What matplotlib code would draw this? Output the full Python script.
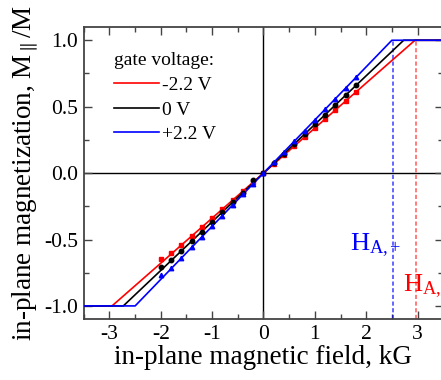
import matplotlib
matplotlib.use("Agg")
import matplotlib.pyplot as plt
from matplotlib.ticker import MultipleLocator

plt.rcParams['font.family'] = ['Liberation Serif', 'DejaVu Serif']
plt.rcParams['mathtext.fontset'] = 'custom'
plt.rcParams['mathtext.rm'] = 'Liberation Serif'
plt.rcParams['mathtext.it'] = 'Liberation Serif:italic'

# measured points (field in kG, normalized magnetization)
field = [-2.0, -1.8, -1.6, -1.4, -1.2, -1.0, -0.8, -0.6, -0.4, -0.2, 0.0,
         0.2, 0.4, 0.6, 0.8, 1.0, 1.2, 1.4, 1.6, 1.8]
m_neg = [-0.645, -0.600, -0.540, -0.474, -0.405, -0.338, -0.272, -0.203, -0.136, -0.068, 0.0,
         0.066, 0.135, 0.203, 0.270, 0.338, 0.405, 0.473, 0.540, 0.608]
m_zero = [-0.705, -0.655, -0.585, -0.512, -0.440, -0.366, -0.293, -0.220, -0.147, -0.050, 0.0,
          0.073, 0.147, 0.220, 0.293, 0.366, 0.440, 0.513, 0.586, 0.660]
m_pos = [-0.770, -0.715, -0.640, -0.560, -0.480, -0.400, -0.320, -0.240, -0.160, -0.080, 0.0,
         0.080, 0.160, 0.240, 0.320, 0.400, 0.480, 0.560, 0.640, 0.720]

# saturation (anisotropy) fields, kG
h_sat = {'-2.2 V': 2.95, '0 V': 2.73, '+2.2 V': 2.50}
h_a_plus = 2.52
h_a_minus = 2.97

fig = plt.figure(figsize=(4.41, 3.80), dpi=100)
ax = fig.add_axes([0.190, 0.160, 0.815, 0.769])

ax.axhline(0, color='k', lw=1.0, zorder=1)
ax.axvline(0, color='k', lw=1.0, zorder=1)

colors = {'-2.2 V': 'red', '0 V': 'black', '+2.2 V': 'blue'}
markers = {'-2.2 V': 's', '0 V': 'o', '+2.2 V': '^'}
data = {'-2.2 V': m_neg, '0 V': m_zero, '+2.2 V': m_pos}

for key in ['-2.2 V', '0 V', '+2.2 V']:
    hs = h_sat[key]
    ax.plot([-3.5, -hs, hs, 3.5], [-1, -1, 1, 1], color=colors[key], lw=1.2, label=key, zorder=3)
    ax.plot(field, data[key], ls='none', marker=markers[key], ms=3.2,
            color=colors[key], zorder=4)

ax.plot([h_a_plus, h_a_plus], [-1.1, 1.0], color='blue', alpha=0.7, lw=1.2,
        ls=(0, (2.5, 1.5)), zorder=2)
ax.plot([h_a_minus, h_a_minus], [-1.1, 1.0], color='red', alpha=0.6, lw=1.2,
        ls=(0, (2.5, 1.5)), zorder=2)

ax.text(1.68, -0.58, r'$\mathregular{H_{A{,}+}}$', color='blue', fontsize=19)
ax.text(2.72, -0.89, r'$\mathregular{H_{A{,}-}}$', color='red', fontsize=19)

ax.set_xlim(-3.5, 3.5)
ax.set_ylim(-1.1, 1.1)
ax.xaxis.set_minor_locator(MultipleLocator(0.5))
ax.yaxis.set_minor_locator(MultipleLocator(0.25))
ax.set_xticks([-3, -2, -1, 0, 1, 2, 3])
ax.set_xticklabels(['-3', '-2', '-1', '0', '1', '2', '3'])
ax.set_yticks([-1.0, -0.5, 0.0, 0.5, 1.0])
ax.set_yticklabels(['-1.0', '-0.5', '0.0', '0.5', '1.0'])
ax.tick_params(which='both', direction='in', top=True, right=True,
               labelsize=15.5, color='#444444', width=1.0)
ax.tick_params(which='major', length=6, pad=4)
ax.tick_params(which='minor', length=3.5)
for s in ax.spines.values():
    s.set_color('#444444')
    s.set_linewidth(1.3)

ax.set_xlabel('in-plane magnetic field, kG', fontsize=19.5, labelpad=1)
ax.set_ylabel(r'in-plane magnetization, M$_{\parallel}$/M', fontsize=19.5, labelpad=2)

leg = ax.legend(title='gate voltage:', loc='upper left', frameon=False,
                fontsize=14, title_fontsize=14, handlelength=2.3,
                handletextpad=0.2, labelspacing=0.36,
                bbox_to_anchor=(0.062, 0.94), borderaxespad=0)
leg._legend_box.align = 'left'

fig.savefig('out.png', dpi=100)
